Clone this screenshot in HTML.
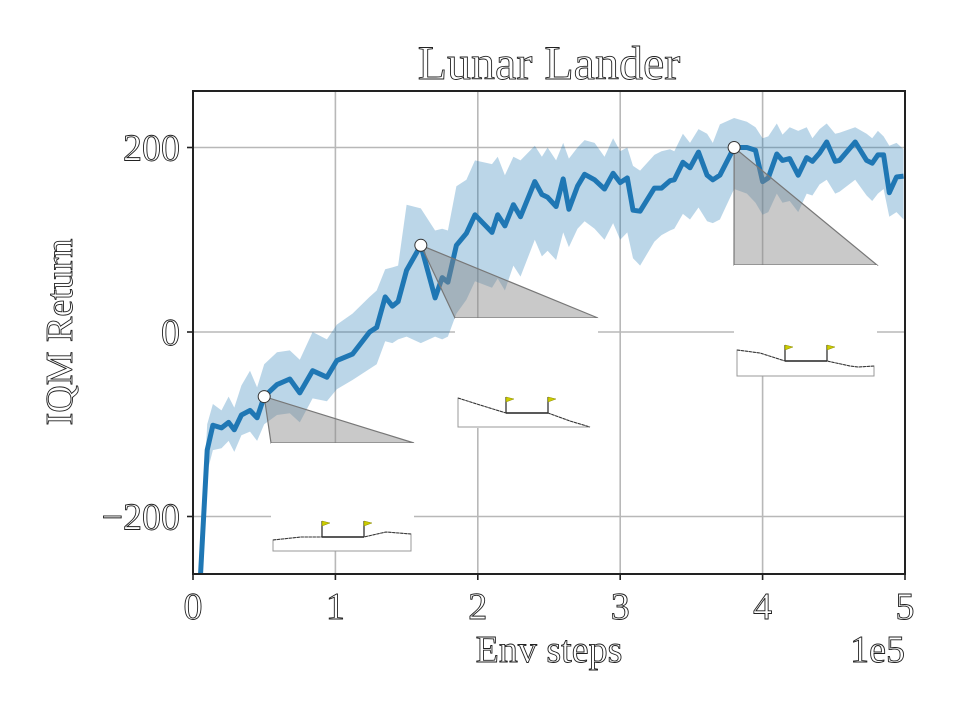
<!DOCTYPE html>
<html><head><meta charset="utf-8"><style>
html,body{margin:0;padding:0;background:#fff;}
svg text{font-family:"Liberation Serif","Times New Roman",serif;fill:#fff;stroke:#222;stroke-width:0.9px;}
</style></head><body>
<svg id="chart" width="960" height="720" viewBox="0 0 960 720" xmlns="http://www.w3.org/2000/svg">
<rect width="960" height="720" fill="#fff"/>
<g id="grid"></g>
<g id="band"></g>
<g id="line"></g>
<g id="insets"></g>
<g id="axes"></g>
<text x="549" y="79" font-size="48" text-anchor="middle">Lunar Lander</text>
<text x="549" y="662" font-size="38" text-anchor="middle">Env steps</text>
<text x="905" y="662" font-size="38" text-anchor="end">1e5</text>
<text transform="translate(72,332) rotate(-90)" font-size="38" text-anchor="middle">IQM Return</text>
</svg>
<script>
const steps = [0.04,0.10,0.14,0.20,0.25,0.29,0.34,0.40,0.45,0.50,0.59,0.68,0.75,0.84,0.94,1.01,1.12,1.24,1.29,1.35,1.40,1.44,1.50,1.60,1.70,1.75,1.79,1.85,1.92,1.98,2.10,2.14,2.19,2.25,2.30,2.40,2.45,2.49,2.55,2.60,2.64,2.70,2.75,2.82,2.89,2.95,3.00,3.05,3.09,3.14,3.24,3.29,3.35,3.38,3.44,3.49,3.55,3.61,3.65,3.70,3.80,3.89,3.95,4.00,4.04,4.10,4.14,4.19,4.25,4.31,4.35,4.40,4.45,4.51,4.54,4.65,4.73,4.77,4.81,4.85,4.89,4.94,4.99];
const meanVals = [-300,-128,-101,-104,-98,-106,-90,-85,-93,-70,-57,-51,-66,-42,-49,-31,-24,0,5,38,28,33,67,94,37,59,54,94,107,127,108,127,115,138,125,163,149,146,136,166,133,158,171,165,155,172,162,167,132,131,156,156,164,165,184,178,195,170,165,170,200,200,197,163,167,193,186,188,170,189,185,194,206,185,186,206,186,183,192,192,151,168,169];
const upperVals = [-270,-100,-78,-85,-70,-82,-58,-42,-60,-35,-22,-20,-30,0,-8,8,20,38,45,68,70,72,138,134,110,112,110,158,165,186,182,190,170,190,186,202,190,200,186,205,188,200,208,205,190,210,196,200,180,175,192,196,198,196,215,205,220,215,205,225,232,228,222,210,212,226,214,222,218,222,210,220,226,215,216,222,215,210,218,212,202,205,198];
const lowerVals = [-330,-152,-128,-126,-118,-130,-112,-108,-118,-100,-90,-88,-98,-72,-75,-62,-52,-40,-35,-10,-12,-8,-5,-12,-5,-8,-5,20,35,55,48,58,45,72,60,100,82,88,78,108,92,112,120,112,100,118,100,108,80,72,98,105,110,112,128,122,135,120,118,122,155,150,140,127,130,150,140,142,130,150,148,160,165,150,152,165,148,142,150,155,125,130,122];
const markerSteps = [0.5,1.6,3.8];
const markerVals = [-70,94,200];
const xTicks = [0,1,2,3,4,5];
const yTicks = [-200,0,200];
const yTickLabels = ["\u2212200","0","200"];

const NS="http://www.w3.org/2000/svg";
const L=193,R=905,T=91,B=574;
const X=v=>L+(v/5)*(R-L);
const Y=v=>332-v*0.9225;
function mk(tag,attrs,parent){const e=document.createElementNS(NS,tag);for(const k in attrs)e.setAttribute(k,attrs[k]);parent.appendChild(e);return e;}

const grid=document.getElementById('grid');
xTicks.forEach(t=>{const g=mk('line',{x1:X(t),x2:X(t),y1:T,y2:B,stroke:'#b8b8b8','stroke-width':1.6},grid);

});
yTicks.forEach(t=>{const g=mk('line',{x1:L,x2:R,y1:Y(t),y2:Y(t),stroke:'#b8b8b8','stroke-width':1.6},grid);

});

const defs=mk('defs',{},document.getElementById('chart'));
const cp=mk('clipPath',{id:'plotclip'},defs);
mk('rect',{x:L,y:T,width:R-L,height:B-T},cp);

const band=document.getElementById('band');
band.setAttribute('clip-path','url(#plotclip)');
let d='';
steps.forEach((s,i)=>{d+=(i?'L':'M')+X(s).toFixed(1)+','+Y(upperVals[i]).toFixed(1);});
for(let i=steps.length-1;i>=0;i--)d+='L'+X(steps[i]).toFixed(1)+','+Y(lowerVals[i]).toFixed(1);
const bp=mk('path',{d:d+'Z',fill:'#1f77b4','fill-opacity':0.3,stroke:'none'},band);



const lineG=document.getElementById('line');
lineG.setAttribute('clip-path','url(#plotclip)');
let ld='';
steps.forEach((s,i)=>{ld+=(i?'L':'M')+X(s).toFixed(1)+','+Y(meanVals[i]).toFixed(1);});
const lp=mk('path',{d:ld,fill:'none',stroke:'#1f77b4','stroke-width':5,'stroke-linejoin':'round'},lineG);



const insets=document.getElementById('insets');
const boxes=[{x:271,y:443,w:143,h:108,terr:[[2,97],[30,94],[51,94],[93,94],[115,89],[140,91]],fl:[51,93],base:94,bot:108},
{x:455,y:318,w:143,h:110,terr:[[3,80],[25,87],[51,95],[93,95],[115,103],[135,109]],fl:[51,93],base:95,bot:109},
{x:734,y:265,w:143,h:111,terr:[[3,85],[26,88],[51,96],[93,96],[116,101],[124,102],[140,101]],fl:[51,93],base:96,bot:111}];
boxes.forEach((b,i)=>{
const mx=X(markerSteps[i]),my=Y(markerVals[i]);
const tri=mk('polygon',{points:`${mx},${my} ${b.x},${b.y} ${b.x+b.w},${b.y}`,fill:'#888','fill-opacity':0.45,stroke:'#777','stroke-width':1.2},insets);


const g=mk('g',{transform:`translate(${b.x},${b.y})`},insets);


mk('rect',{x:0,y:0,width:b.w,height:b.h,fill:'#fff'},g);
const t=b.terr;const last=t[t.length-1];
let p='M'+t[0][0]+','+b.bot+' L'+t.map(q=>q.join(',')).join(' L')+' L'+last[0]+','+b.bot+' Z';
mk('path',{d:p,fill:'#fff',stroke:'#999','stroke-width':1},g);
mk('path',{d:'M'+t.map(q=>q.join(',')).join(' L'),fill:'none',stroke:'#333','stroke-width':1,'stroke-dasharray':'3,1'},g);
mk('line',{x1:b.fl[0],x2:b.fl[1],y1:b.base,y2:b.base,stroke:'#222','stroke-width':1.5},g);
b.fl.forEach(f=>{mk('line',{x1:f,x2:f,y1:b.base,y2:b.base-16,stroke:'#333','stroke-width':1.3},g);
mk('polygon',{points:`${f},${b.base-16} ${f+8},${b.base-14} ${f},${b.base-11}`,fill:'#cccc00',stroke:'#888800','stroke-width':0.5},g);});
const m=mk('circle',{cx:mx,cy:my,r:6,fill:'#fff',stroke:'#333','stroke-width':1},insets);


});

const axes=document.getElementById('axes');
mk('rect',{x:L,y:T,width:R-L,height:B-T,fill:'none',stroke:'#222','stroke-width':2},axes);
xTicks.forEach(t=>{mk('line',{x1:X(t),x2:X(t),y1:B,y2:B+6,stroke:'#222','stroke-width':1.6},axes);
const tx=mk('text',{x:X(t),y:B+45,'font-size':38,'text-anchor':'middle'},axes);tx.textContent=t;

});
yTicks.forEach((t,i)=>{mk('line',{x1:L-6,x2:L,y1:Y(t),y2:Y(t),stroke:'#222','stroke-width':1.6},axes);
const tx=mk('text',{x:L-13,y:Y(t)+13,'font-size':38,'text-anchor':'end'},axes);tx.textContent=yTickLabels[i];

});
</script>
</body></html>
